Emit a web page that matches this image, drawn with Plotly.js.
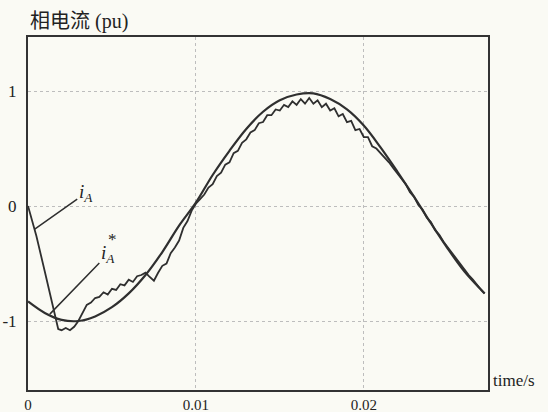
<!DOCTYPE html>
<html>
<head>
<meta charset="utf-8">
<script src="https://cdn.plot.ly/plotly-3.0.1.min.js"></script>
<style>
  html, body { margin: 0; padding: 0; background: rgb(250,250,244); }
  #chart { width: 548px; height: 412px; }
</style>
</head>
<body>
<div id="chart"></div>
<script>
// Reference current i_A* (smooth sinusoid), time in seconds, value in pu
const tRef = [0, 0.001, 0.002, 0.003, 0.004, 0.005, 0.006, 0.007, 0.008, 0.009,
  0.010, 0.011, 0.012, 0.013, 0.014, 0.015, 0.016, 0.017, 0.018, 0.019,
  0.020, 0.021, 0.022, 0.023, 0.024, 0.025, 0.026, 0.027, 0.0272];
const iRef = [-0.83, -0.93, -0.99, -1.00, -0.96, -0.88, -0.76, -0.60, -0.40, -0.17,
  0.03, 0.27, 0.48, 0.67, 0.82, 0.92, 0.97, 0.98, 0.93, 0.84,
  0.70, 0.51, 0.30, 0.08, -0.15, -0.37, -0.57, -0.73, -0.76];

// Actual phase current i_A (rippled)
const tAct = [0, 0.0005, 0.001, 0.0015, 0.0018, 0.002, 0.00225, 0.0025, 0.00275, 0.003,
  0.00325, 0.0035, 0.00375, 0.004, 0.00425, 0.0045, 0.00475, 0.005, 0.00525, 0.0055,
  0.00575, 0.006, 0.00625, 0.0065, 0.00675, 0.007, 0.0072, 0.0075, 0.00775, 0.008,
  0.00825, 0.0085, 0.00875, 0.009, 0.00925, 0.0095, 0.00975, 0.010, 0.01025, 0.0105,
  0.01075, 0.011, 0.01125, 0.0115, 0.01175, 0.012, 0.01225, 0.0125, 0.01275, 0.013,
  0.01325, 0.0135, 0.01375, 0.014, 0.01425, 0.0145, 0.01475, 0.015, 0.01525, 0.0155,
  0.01575, 0.016, 0.01625, 0.0165, 0.01675, 0.017, 0.01725, 0.0175, 0.01775, 0.018,
  0.01825, 0.0185, 0.01875, 0.019, 0.01925, 0.0195, 0.01975, 0.020, 0.02025, 0.0205,
  0.02075, 0.021, 0.02125, 0.0215, 0.02175, 0.022, 0.02225, 0.0225, 0.02275, 0.023,
  0.02325, 0.0235, 0.02375, 0.024, 0.02425, 0.0245, 0.02475, 0.025, 0.02525, 0.0255,
  0.02575, 0.026, 0.02625, 0.0265, 0.02675, 0.027, 0.0272];
const iAct = [0.0, -0.26, -0.57, -0.89, -1.07, -1.08, -1.06, -1.08, -1.05, -1.00,
  -0.93, -0.86, -0.84, -0.80, -0.79, -0.75, -0.77, -0.72, -0.73, -0.68,
  -0.69, -0.64, -0.66, -0.61, -0.60, -0.58, -0.61, -0.65, -0.58, -0.52,
  -0.50, -0.41, -0.36, -0.30, -0.19, -0.13, -0.04, 0.02, 0.06, 0.10,
  0.16, 0.19, 0.26, 0.29, 0.36, 0.38, 0.46, 0.48, 0.55, 0.58,
  0.64, 0.66, 0.72, 0.73, 0.79, 0.79, 0.84, 0.83, 0.88, 0.86,
  0.91, 0.88, 0.93, 0.89, 0.94, 0.89, 0.92, 0.86, 0.89, 0.83,
  0.85, 0.78, 0.80, 0.73, 0.74, 0.66, 0.67, 0.60, 0.60, 0.52,
  0.50, 0.46, 0.42, 0.38, 0.33, 0.28, 0.23, 0.19, 0.12, 0.08,
  0.01, -0.03, -0.10, -0.14, -0.21, -0.25, -0.31, -0.36, -0.41, -0.46,
  -0.51, -0.56, -0.60, -0.64, -0.69, -0.73, -0.76];

const xTickVals = [0, 0.01, 0.02];
const xTickText = ['0', '0.01', '0.02'];
const yTickVals = [-1, 0, 1];
const yTickText = ['-1', '0', '1'];

const ink = '#2f2f2f';
const serif = "'Liberation Serif', 'Times New Roman', serif";

const traces = [
  { x: tRef, y: iRef, type: 'scatter', mode: 'lines', name: 'iA*',
    line: { color: ink, width: 2.2, shape: 'spline', smoothing: 1 }, hoverinfo: 'skip' },
  { x: tAct, y: iAct, type: 'scatter', mode: 'lines', name: 'iA',
    line: { color: ink, width: 1.8 }, hoverinfo: 'skip' }
];

const layout = {
  width: 548, height: 412,
  margin: { l: 28, r: 60, t: 37, b: 22, pad: 0 },
  paper_bgcolor: 'rgb(250,250,244)',
  plot_bgcolor: 'rgb(250,250,244)',
  showlegend: false,
  font: { family: serif, size: 16, color: '#222' },
  xaxis: {
    range: [0, 0.0274], tickvals: xTickVals, ticktext: xTickText,
    showgrid: true, gridcolor: '#bdbdbd', griddash: 'dot', gridwidth: 1,
    zeroline: false, showline: true, mirror: true, linecolor: '#333', linewidth: 2,
    ticks: '', ticklabelstandoff: 0, tickfont: { family: serif, size: 15, color: '#222' }
  },
  yaxis: {
    range: [-1.6, 1.47], tickvals: yTickVals, ticktext: yTickText,
    showgrid: true, gridcolor: '#bdbdbd', griddash: 'dot', gridwidth: 1,
    zeroline: false, showline: true, mirror: true, linecolor: '#333', linewidth: 2,
    ticks: '', ticklabelstandoff: 6, tickfont: { family: serif, size: 17, color: '#222' }
  },
  annotations: [
    { xref: 'paper', yref: 'paper', x: -0.001, y: 1.0, yshift: 16, xanchor: 'left', yanchor: 'middle',
      text: '相电流 (pu)', showarrow: false,
      font: { family: "'Liberation Serif', 'Noto Sans CJK SC', serif", size: 20, color: '#222' } },
    { xref: 'paper', yref: 'paper', x: 1.0, y: 0.0, xshift: 3, yshift: 10, xanchor: 'left', yanchor: 'middle',
      text: 'time/s', showarrow: false, font: { family: serif, size: 17, color: '#222' } },
    { x: 0.0004, y: -0.2, xref: 'x', yref: 'y', ax: 51, ay: -36,
      text: '<i>i</i><sub><i>A</i></sub>', showarrow: true, arrowhead: 0, arrowwidth: 1.5,
      arrowcolor: ink, font: { family: serif, size: 19, color: '#222' } },
    { x: 0.0013, y: -0.94, xref: 'x', yref: 'y', ax: 58, ay: -60,
      text: '<i>i</i><sub><i>A</i></sub>', showarrow: true, arrowhead: 0, arrowwidth: 1.5,
      arrowcolor: ink, font: { family: serif, size: 19, color: '#222' } },
    { x: 0.0013, y: -0.94, xref: 'x', yref: 'y', xshift: 63, yshift: 75,
      text: '*', showarrow: false, font: { family: serif, size: 17, color: '#222' } }
  ]
};

Plotly.newPlot('chart', traces, layout, { staticPlot: true, displayModeBar: false });
</script>
</body>
</html>
